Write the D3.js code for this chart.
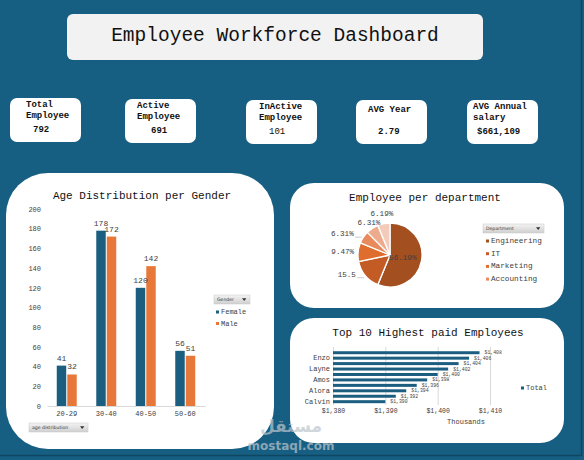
<!DOCTYPE html>
<html>
<head>
<meta charset="utf-8">
<script src="https://cdn.jsdelivr.net/npm/d3@7"></script>
<style>
  html, body { margin: 0; padding: 0; background: #175f82; }
  svg { display: block; }
  text { font-family: "Liberation Mono", "Courier New", monospace; }
</style>
</head>
<body>
<div id="chart"></div>
<script>
// kpi cards
var kpiLabels = [["Total", "Employee"], ["Active", "Employee"], ["InActive", "Employee"], ["AVG Year"], ["AVG Annual", "salary"]];
var kpiValues = ["792", "691", "101", "2.79", "$661,109"];

// age distribution per gender
var ageGroups = ["20-29", "30-40", "40-50", "50-60"];
var genders = ["Female", "Male"];
var femaleCounts = [41, 178, 120, 56];
var maleCounts = [32, 172, 142, 51];
var ageTicks = [0, 20, 40, 60, 80, 100, 120, 140, 160, 180, 200];

// employee per department
var departments = ["Engineering", "IT", "Marketing", "Accounting", "Sales", "HR"];
var deptShare = [56.19, 15.53, 9.47, 6.31, 6.31, 6.19];
var deptLabels = ["56.19%", "15.5", "9.47%", "6.31%", "6.31%", "6.19%"];

// top 10 paid (thousands)
var topNames = ["Ryan", "Enzo", "Maya", "Layne", "Felix", "Amos", "Nora", "Alora", "Ivan", "Calvin"];
var topSalary = [1408, 1406, 1404, 1402, 1400, 1398, 1396, 1394, 1392, 1390];
var salaryTicks = [1380, 1390, 1400, 1410];

(function() {
    var W = 584, H = 460;
    var blue = "#1b5e80", orange = "#e8783a", ink = "#404040";

    var svg = d3.select("#chart").append("svg")
        .attr("width", W)
        .attr("height", H);

    svg.append("rect").attr("width", W).attr("height", H).attr("fill", "#175f82");
    // thin darker frame at the right / bottom edge
    svg.append("line").attr("x1", 581.5).attr("x2", 581.5).attr("y1", 0).attr("y2", 456)
        .attr("stroke", "#0f4763").attr("stroke-width", 1.5);
    svg.append("line").attr("x1", 0).attr("x2", 582).attr("y1", 455.5).attr("y2", 455.5)
        .attr("stroke", "#0f4763").attr("stroke-width", 1.5);

    // title
    svg.append("rect").attr("x", 67).attr("y", 14).attr("width", 416).attr("height", 46)
        .attr("rx", 6).attr("fill", "#f2f2f2");
    svg.append("text").attr("x", 275).attr("y", 36)
        .attr("text-anchor", "middle").attr("dominant-baseline", "central")
        .style("font-size", "19.5px").attr("fill", "#111")
        .text("Employee Workforce Dashboard");

    // kpi cards
    var cards = [
        {x: 10, y: 98, tx: 16, vx: 23},
        {x: 125, y: 99, tx: 12, vx: 26},
        {x: 246, y: 100, tx: 13, vx: 23},
        {x: 356, y: 100, tx: 12, vx: 22},
        {x: 467, y: 100, tx: 6, vx: 10}
    ];
    cards.forEach(function(c, i) {
        var g = svg.append("g").attr("transform", "translate(" + c.x + "," + c.y + ")");
        g.append("rect").attr("width", 71).attr("height", 44).attr("rx", 7).attr("fill", "#fff");
        var lines = kpiLabels[i];
        lines.forEach(function(t, j) {
            g.append("text").attr("x", c.tx)
                .attr("y", lines.length == 1 ? 10 : 7 + j * 11)
                .attr("dominant-baseline", "central")
                .style("font-size", "9px").style("font-weight", "bold").attr("fill", "#111")
                .text(t);
        });
        g.append("text").attr("x", c.vx).attr("y", 32)
            .attr("dominant-baseline", "central")
            .style("font-size", "9px").style("font-weight", i == 2 ? "normal" : "bold")
            .attr("fill", "#111")
            .text(kpiValues[i]);
    });

    // panels
    svg.append("rect").attr("x", 6).attr("y", 173).attr("width", 268).attr("height", 276)
        .attr("rx", 42).attr("fill", "#fff");
    svg.append("rect").attr("x", 290).attr("y", 183).attr("width", 274).attr("height", 125)
        .attr("rx", 24).attr("fill", "#fff");
    svg.append("rect").attr("x", 290).attr("y", 318).attr("width", 274).attr("height", 125)
        .attr("rx", 24).attr("fill", "#fff");

    function dropdown(x, y, w, label) {
        var grad = "g" + Math.round(x) + "_" + Math.round(y);
        var defs = svg.append("defs").append("linearGradient").attr("id", grad)
            .attr("x1", 0).attr("x2", 0).attr("y1", 0).attr("y2", 1);
        defs.append("stop").attr("offset", "0%").attr("stop-color", "#f4f4f4");
        defs.append("stop").attr("offset", "100%").attr("stop-color", "#cfcfcf");
        svg.append("rect").attr("x", x).attr("y", y).attr("width", w).attr("height", 9)
            .attr("fill", "url(#" + grad + ")").attr("stroke", "#c8c8c8").attr("stroke-width", 0.5);
        svg.append("text").attr("x", x + 3).attr("y", y + 4.7)
            .attr("dominant-baseline", "central")
            .style("font-family", "'DejaVu Sans', sans-serif").style("font-size", "4.6px")
            .attr("fill", "#333").text(label);
        svg.append("path")
            .attr("d", "M" + (x + w - 8) + "," + (y + 3.2) + "h4.4l-2.2,2.8z")
            .attr("fill", "#333");
    }

    // ---------- age distribution per gender ----------
    svg.append("text").attr("x", 142).attr("y", 196)
        .attr("text-anchor", "middle").attr("dominant-baseline", "central")
        .style("font-size", "11px").attr("fill", "#111")
        .text("Age Distribution per Gender");

    var y = d3.scaleLinear().domain([0, 200]).range([406, 209]);
    var x0 = d3.scaleBand().domain(ageGroups).range([47, 205])
        .paddingInner(0.494).paddingOuter(0.247);
    var x1 = d3.scaleBand().domain(genders).range([0, x0.bandwidth()]).paddingInner(0.1);
    var gColor = d3.scaleOrdinal().domain(genders).range([blue, orange]);

    var yAxis = svg.append("g").attr("transform", "translate(47,0)")
        .call(d3.axisLeft(y).tickValues(ageTicks).tickSize(0).tickPadding(6));
    yAxis.select(".domain").remove();
    yAxis.selectAll("text").style("font-size", "7px").style("font-family", "'Liberation Mono', monospace")
        .attr("fill", ink);

    var xAxis = svg.append("g").attr("transform", "translate(0,406)")
        .call(d3.axisBottom(x0).tickSize(0));
    xAxis.select(".domain").attr("stroke", "#d9d9d9");
    xAxis.selectAll("text").attr("y", 8).attr("dy", "0.32em")
        .style("font-size", "7px").style("font-family", "'Liberation Mono', monospace").attr("fill", ink);

    var rows = ageGroups.map(function(a, i) {
        return {group: a, vals: [{g: "Female", v: femaleCounts[i]}, {g: "Male", v: maleCounts[i]}]};
    });
    var grp = svg.selectAll(".agegrp").data(rows).enter().append("g")
        .attr("transform", function(d) { return "translate(" + x0(d.group) + ",0)"; });
    grp.selectAll("rect").data(function(d) { return d.vals; }).enter().append("rect")
        .attr("x", function(d) { return x1(d.g); })
        .attr("y", function(d) { return y(d.v); })
        .attr("width", x1.bandwidth())
        .attr("height", function(d) { return y(0) - y(d.v); })
        .attr("fill", function(d) { return gColor(d.g); });
    grp.selectAll("text").data(function(d) { return d.vals; }).enter().append("text")
        .attr("x", function(d) { return x1(d.g) + x1.bandwidth() / 2; })
        .attr("y", function(d) { return y(d.v) - 5; })
        .attr("text-anchor", "middle")
        .style("font-size", "8px").attr("fill", ink)
        .text(function(d) { return d.v; });

    dropdown(214, 295, 36, "Gender");
    genders.forEach(function(gname, i) {
        svg.append("rect").attr("x", 216).attr("y", 310.5 + i * 11.5).attr("width", 3).attr("height", 3)
            .attr("fill", gColor(gname));
        svg.append("text").attr("x", 221).attr("y", 312 + i * 11.5)
            .attr("dominant-baseline", "central")
            .style("font-size", "7px").attr("fill", ink).text(gname);
    });
    dropdown(29, 423, 59, "age distribution");

    // ---------- employee per department ----------
    svg.append("text").attr("x", 425).attr("y", 198)
        .attr("text-anchor", "middle").attr("dominant-baseline", "central")
        .style("font-size", "11px").attr("fill", "#111")
        .text("Employee per department");

    var cx = 390, cy = 255, r = 32;
    var dColor = d3.scaleOrdinal().domain(departments)
        .range(["#a44f1f", "#c35b25", "#df6e2e", "#e88a5c", "#ecab8d", "#f3cbbb"]);
    var pie = d3.pie().sort(null).value(function(d) { return d.v; });
    var arcs = pie(departments.map(function(n, i) { return {name: n, v: deptShare[i], label: deptLabels[i]}; }));
    var arc = d3.arc().innerRadius(0).outerRadius(r);
    var pg = svg.append("g").attr("transform", "translate(" + cx + "," + cy + ")");
    pg.selectAll("path").data(arcs).enter().append("path")
        .attr("d", arc)
        .attr("fill", function(d) { return dColor(d.data.name); })
        .attr("stroke", "#fff").attr("stroke-width", 1.3);

    // label placement: big slice inside, side labels left of the edge, top labels above
    var inner = d3.arc().innerRadius(0).outerRadius(26);
    arcs.forEach(function(d, i) {
        var mid = (d.startAngle + d.endAngle) / 2;
        var p, anchor, leader = (i == 1 || i == 3);
        if (i == 0) {
            p = inner.centroid(d);
            anchor = "middle";
        } else if (Math.abs(Math.sin(mid)) > 0.7) {
            var e = d3.arc().innerRadius(r + 2).outerRadius(r + 2).centroid(d);
            p = [e[0] - (leader ? 8 : 2), e[1] - (leader ? 2 : 0)];
            anchor = "end";
            if (leader) {
                pg.append("line").attr("x1", p[0] + 1.5).attr("x2", e[0]).attr("y1", p[1] + 3).attr("y2", p[1] + 3)
                    .attr("stroke", "#a6a6a6").attr("stroke-width", 0.6);
            }
        } else {
            var rr = i == 5 ? r + 10 : r + 6;
            p = d3.arc().innerRadius(rr).outerRadius(rr).centroid(d);
            anchor = "middle";
        }
        pg.append("text").attr("x", p[0]).attr("y", p[1])
            .attr("text-anchor", anchor).attr("dominant-baseline", "central")
            .style("font-size", "7.6px").attr("fill", ink)
            .text(d.data.label);
    });

    dropdown(483, 224, 61, "Department");
    departments.slice(0, 4).forEach(function(n, i) {
        svg.append("rect").attr("x", 486).attr("y", 239.5 + i * 12.7).attr("width", 3).attr("height", 3)
            .attr("fill", dColor(n));
        svg.append("text").attr("x", 491).attr("y", 241 + i * 12.7)
            .attr("dominant-baseline", "central")
            .style("font-size", "7.7px").attr("fill", ink).text(n);
    });

    // ---------- top 10 highest paid ----------
    svg.append("text").attr("x", 428).attr("y", 333)
        .attr("text-anchor", "middle").attr("dominant-baseline", "central")
        .style("font-size", "11px").attr("fill", "#111")
        .text("Top 10 Highest paid Employees");

    var xs = d3.scaleLinear().domain([1380, 1410]).range([333, 490]);
    var ys = d3.scaleBand().domain(topNames).range([350, 404.4])
        .paddingInner(0.45).paddingOuter(0.225);
    var fmt = d3.format("$,.0f");

    svg.selectAll(".grid").data(salaryTicks).enter().append("line")
        .attr("x1", function(d) { return xs(d) + 0.5; })
        .attr("x2", function(d) { return xs(d) + 0.5; })
        .attr("y1", 347).attr("y2", 405)
        .attr("stroke", "#d9d9d9").attr("stroke-width", 1);

    var bx = svg.append("g").attr("transform", "translate(0,405)")
        .call(d3.axisBottom(xs).tickValues(salaryTicks).tickFormat(fmt).tickSize(0));
    bx.select(".domain").remove();
    bx.selectAll("text").attr("y", 6).attr("dy", "0.32em")
        .style("font-size", "6.5px").style("font-family", "'Liberation Mono', monospace").attr("fill", ink);

    var by = svg.append("g").attr("transform", "translate(333,0)")
        .call(d3.axisLeft(ys).tickValues(topNames.filter(function(d, i) { return i % 2 == 1; }))
            .tickSize(0).tickPadding(3));
    by.select(".domain").remove();
    by.selectAll("text").style("font-size", "7px").style("font-family", "'Liberation Mono', monospace")
        .attr("fill", ink);

    var rowsTop = topNames.map(function(n, i) { return {name: n, v: topSalary[i]}; });
    svg.selectAll(".tbar").data(rowsTop).enter().append("rect")
        .attr("x", xs(1380))
        .attr("y", function(d) { return ys(d.name); })
        .attr("width", function(d) { return xs(d.v) - xs(1380); })
        .attr("height", ys.bandwidth())
        .attr("fill", blue);
    svg.selectAll(".tlab").data(rowsTop).enter().append("text")
        .attr("x", function(d) { return xs(d.v) + 5; })
        .attr("y", function(d) { return ys(d.name) + ys.bandwidth() / 2; })
        .attr("dominant-baseline", "central")
        .style("font-size", "4.8px").attr("fill", ink)
        .text(function(d) { return fmt(d.v); });

    svg.append("text").attr("x", 466).attr("y", 422)
        .attr("text-anchor", "middle").attr("dominant-baseline", "central")
        .style("font-size", "7px").attr("fill", ink).text("Thousands");
    svg.append("rect").attr("x", 521).attr("y", 386.5).attr("width", 3).attr("height", 3).attr("fill", blue);
    svg.append("text").attr("x", 526).attr("y", 388)
        .attr("dominant-baseline", "central")
        .style("font-size", "7px").attr("fill", ink).text("Total");

    // watermark
    var wm = svg.append("g").attr("opacity", 0.7).attr("fill", "#bcc5cc");
    wm.append("text").attr("x", 291).attr("y", 426)
        .attr("text-anchor", "middle").attr("dominant-baseline", "central")
        .style("font-family", "'DejaVu Sans', sans-serif").style("font-size", "17px").style("font-weight", "bold")
        .text("مستقل");
    wm.append("text").attr("x", 291).attr("y", 446)
        .attr("text-anchor", "middle").attr("dominant-baseline", "central")
        .style("font-family", "'DejaVu Sans', sans-serif").style("font-size", "12px").style("font-weight", "bold")
        .text("mostaql.com");
})();
</script>
</body>
</html>
